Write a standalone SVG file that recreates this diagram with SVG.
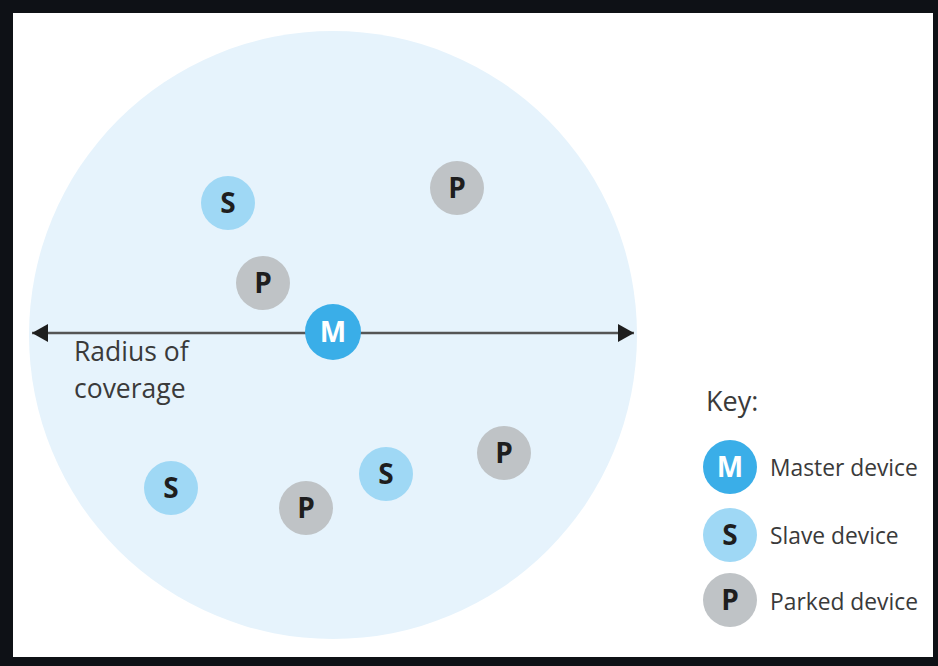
<svg xmlns="http://www.w3.org/2000/svg" width="938" height="666" viewBox="0 0 938 666">
<style>
.t{font-family:"Open Sans","Noto Sans",sans-serif;fill:#3a3a3a}
.lbl{font-family:"Open Sans","Noto Sans",sans-serif;font-weight:bold;font-size:28px;text-anchor:middle;fill:#1e1e1e}
.w{fill:#fff}
.m{fill:#3aaee8}
.s{fill:#9fd8f5}
.p{fill:#bfc3c6}
</style>
<defs>
<marker id="ah" viewBox="0 0 16 18" refX="16" refY="9" markerWidth="16" markerHeight="18" markerUnits="userSpaceOnUse" orient="auto-start-reverse">
<path d="M0,0 L16,9 L0,18 Z" fill="#1e1e1e"/>
</marker>
</defs>
<rect width="938" height="666" fill="#0e1116"/>
<rect x="13" y="13" width="920" height="644" fill="#ffffff"/>
<circle id="coverage" cx="333" cy="335" r="304" fill="#e6f3fc"/>
<g id="connectors">
<line x1="32" y1="333" x2="634" y2="333" stroke="#555" stroke-width="2.5" marker-start="url(#ah)" marker-end="url(#ah)"/>
</g>
<text class="t" font-size="26.5" x="74" y="361">Radius of</text>
<text class="t" font-size="26.5" x="74" y="398">coverage</text>
<g id="s1"><circle class="s" cx="228" cy="203" r="27"/><text class="lbl" x="228" y="213">S</text></g>
<g id="p1"><circle class="p" cx="457" cy="188" r="27"/><text class="lbl" x="457" y="198">P</text></g>
<g id="p2"><circle class="p" cx="263" cy="283" r="27"/><text class="lbl" x="263" y="293">P</text></g>
<g id="master"><circle class="m" cx="333" cy="332" r="28"/><text class="lbl w" x="333" y="342">M</text></g>
<g id="s2"><circle class="s" cx="171" cy="488" r="27"/><text class="lbl" x="171" y="498">S</text></g>
<g id="p3"><circle class="p" cx="306" cy="508" r="27"/><text class="lbl" x="306" y="518">P</text></g>
<g id="s3"><circle class="s" cx="386" cy="474" r="27"/><text class="lbl" x="386" y="484">S</text></g>
<g id="p4"><circle class="p" cx="504" cy="453" r="27"/><text class="lbl" x="504" y="463">P</text></g>
<g id="key">
<text class="t" x="706" y="411" font-size="27">Key:</text>
<circle class="m" cx="730" cy="467" r="27"/><text class="lbl w" x="730" y="477">M</text>
<text class="t" x="770" y="476" font-size="22.8">Master device</text>
<circle class="s" cx="730" cy="535" r="27"/><text class="lbl" x="730" y="545">S</text>
<text class="t" x="770" y="544" font-size="22.8">Slave device</text>
<circle class="p" cx="730" cy="600" r="27"/><text class="lbl" x="730" y="610">P</text>
<text class="t" x="770" y="610" font-size="22.8">Parked device</text>
</g>
</svg>
